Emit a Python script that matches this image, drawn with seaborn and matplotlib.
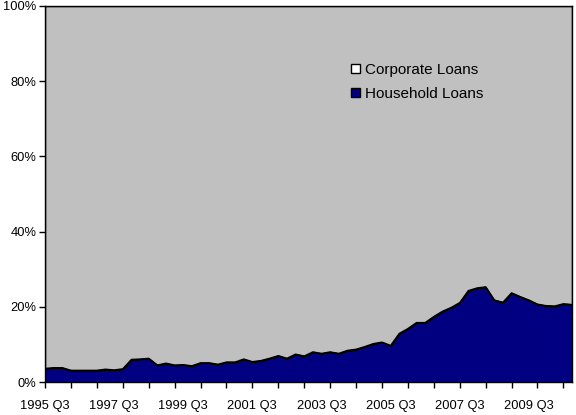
import matplotlib
matplotlib.use("Agg")
import matplotlib.pyplot as plt
import matplotlib.patches as mpatches
import seaborn as sns
import pandas as pd
import numpy as np

# Quarters 1995 Q3 .. 2010 Q4
quarters = []
y, q = 1995, 3
for _ in range(62):
    quarters.append(f"{y} Q{q}")
    q += 1
    if q > 4:
        q = 1
        y += 1

household = [3.6, 3.8, 3.8, 3.1, 3.1, 3.1, 3.1, 3.4, 3.2, 3.5,
             6.0, 6.1, 6.3, 4.5, 5.0, 4.5, 4.6, 4.3, 5.1, 5.1,
             4.7, 5.3, 5.3, 6.1, 5.4, 5.7, 6.3, 7.0, 6.3, 7.4,
             6.9, 8.0, 7.6, 8.0, 7.6, 8.4, 8.7, 9.4, 10.2, 10.6,
             9.7, 12.9, 14.2, 15.8, 15.8, 17.4, 18.8, 19.8, 21.1, 24.3,
             25.0, 25.3, 21.8, 21.2, 23.7, 22.7, 21.8, 20.7, 20.3, 20.2,
             20.8, 20.6]
corporate = [100 - h for h in household]

df = pd.DataFrame({"quarter": quarters, "Household Loans": household,
                   "Corporate Loans": corporate})
df["idx"] = np.arange(len(df))

sns.set_theme(style="ticks")
plt.rcParams['font.family'] = ['Liberation Sans', 'DejaVu Sans']
plt.rcParams['text.color'] = 'black'
plt.rcParams['xtick.color'] = 'black'
plt.rcParams['ytick.color'] = 'black'

fig = plt.figure(figsize=(5.76, 4.15), dpi=100)
ax = fig.add_axes([45/576, 33/415, 527/576, 376/415])

ax.stackplot(df["idx"], df["Household Loans"], df["Corporate Loans"],
             colors=["#000080", "#C0C0C0"], edgecolor="black", linewidth=1.0)
sns.lineplot(data=df, x="idx", y="Household Loans", ax=ax, color="black",
             linewidth=1.0, legend=False)

ax.set_xlim(0, len(df) - 1)
ax.set_ylim(0, 100)
ax.set_xlabel("")
ax.set_ylabel("")

ax.xaxis.remove_overlapping_locs = False
ax.set_yticks(np.arange(0, 101, 20))
ax.set_yticklabels([f"{v}%" for v in range(0, 101, 20)], fontsize=9.3)
ax.set_xticks(np.arange(0, len(df), 3))
ax.set_xticklabels([])
ax.set_xticks(np.arange(0, len(df), 8), minor=True)
ax.set_xticklabels([quarters[i] for i in range(0, len(df), 8)], minor=True, fontsize=9.3)
ax.tick_params(axis="x", which="minor", length=0, pad=13, labelcolor="black")
ax.tick_params(axis="both", which="major", length=4, width=1, color="black",
               direction="out", pad=2, labelcolor="black")
for s in ax.spines.values():
    s.set_color("black")
    s.set_linewidth(1.0)

handles = [mpatches.Patch(facecolor="white", edgecolor="black", label="Corporate Loans"),
           mpatches.Patch(facecolor="#000080", edgecolor="black", label="Household Loans")]
ax.legend(handles=handles, loc="upper left", bbox_to_anchor=(0.555, 0.885),
          frameon=False, fontsize=11, handlelength=0.6, handleheight=0.6,
          handletextpad=0.3, labelspacing=0.65, labelcolor="black")

fig.savefig("out.png", dpi=100)
